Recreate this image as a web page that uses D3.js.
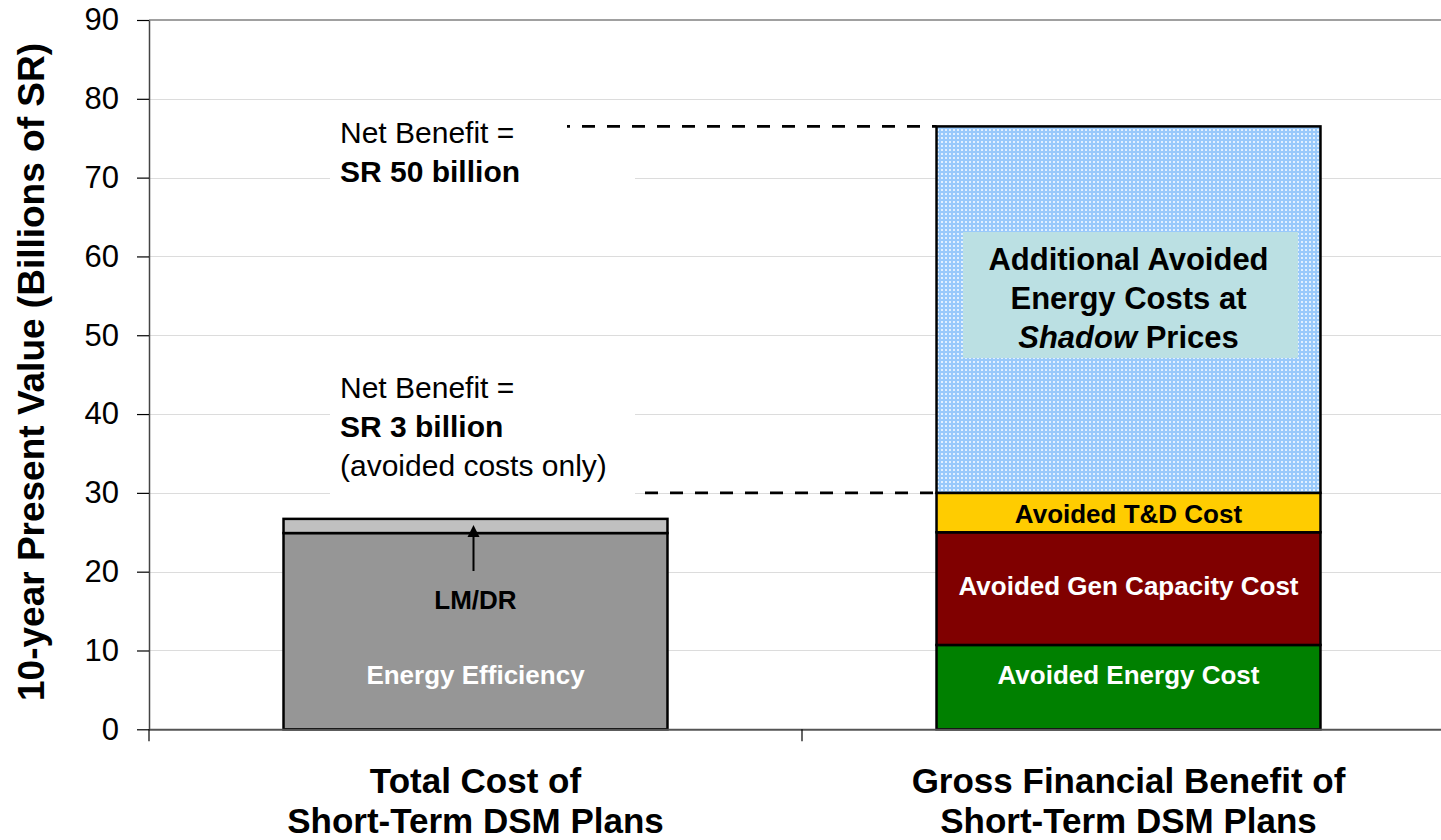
<!DOCTYPE html>
<html>
<head>
<meta charset="utf-8">
<script src="https://cdn.jsdelivr.net/npm/d3@7"></script>
<style>
    body { margin: 0; background: #fff; }
    svg { display: block; font-family: 'Liberation Sans', Arial, sans-serif; }
</style>
</head>
<body>
<svg class="chart"></svg>
<script>

// chart values (billions of SR, 10-year present value)
const categories = ['cost', 'benefit'];
const categoryLabels = [
    ['Total Cost of', 'Short-Term DSM Plans'],
    ['Gross Financial Benefit of', 'Short-Term DSM Plans']
];
const costNames = ['Energy Efficiency', 'LM/DR'];
const costValues = [24.9, 1.8];
const benefitNames = ['Avoided Energy Cost', 'Avoided Gen Capacity Cost', 'Avoided T&D Cost', 'Shadow'];
const benefitValues = [10.7, 14.3, 5.0, 46.5];
const yTicks = [0, 10, 20, 30, 40, 50, 60, 70, 80, 90];

const WIDTH = 1441;
const HEIGHT = 840;
const FONT = "'Liberation Sans', Arial, sans-serif";

const costColors = ['#969696', '#c0c0c0'];
const benefitColors = ['#008000', '#800000', '#ffcc00', 'url(#dots)'];

var svg = d3.select('svg.chart')
    .attr('width', WIDTH)
    .attr('height', HEIGHT)
    .attr('font-family', FONT);

// dotted light blue fill for the shadow price block
var pat = svg.append('defs').append('pattern')
    .attr('id', 'dots')
    .attr('patternUnits', 'userSpaceOnUse')
    .attr('width', 4)
    .attr('height', 4);
pat.append('rect').attr('width', 4).attr('height', 4).attr('fill', '#99c9fb');
pat.append('rect').attr('x', 1).attr('y', 1).attr('width', 2).attr('height', 2).attr('fill', '#e2f0ff');

var y = d3.scaleLinear().domain([0, 90]).range([729.3, 20]);

var x = d3.scaleBand()
    .domain(categories)
    .range([149, 1455])
    .paddingInner(0.412)
    .paddingOuter(0.206);

var step = x.step();

// gridlines
svg.append('g')
    .selectAll('line')
    .data(yTicks.filter(t => t > 0 && t < 90))
    .enter().append('line')
        .attr('x1', 149)
        .attr('x2', WIDTH)
        .attr('y1', t => Math.round(y(t)) + 0.5)
        .attr('y2', t => Math.round(y(t)) + 0.5)
        .attr('stroke', '#dcdcdc')
        .attr('stroke-width', 1);

svg.append('line')
    .attr('x1', 149).attr('x2', WIDTH)
    .attr('y1', y(90)).attr('y2', y(90))
    .attr('stroke', '#a0a0a0')
    .attr('stroke-width', 2);

// white boxes behind the net benefit notes
svg.append('rect').attr('x', 330).attr('y', 108).attr('width', 305).attr('height', 88).attr('fill', '#fff');
svg.append('rect').attr('x', 330).attr('y', 362).attr('width', 305).attr('height', 138).attr('fill', '#fff');

// y axis
var yAxis = d3.axisLeft(y)
    .tickValues(yTicks)
    .tickSize(12)
    .tickSizeOuter(0)
    .tickPadding(18);

var gy = svg.append('g')
    .attr('transform', 'translate(149,0)')
    .call(yAxis);

gy.attr('font-family', FONT);
gy.select('.domain').attr('stroke', '#444').attr('stroke-width', 1.5);
gy.selectAll('.tick line').attr('stroke', '#000').attr('stroke-width', 1.2);
gy.selectAll('.tick text')
    .attr('font-family', FONT)
    .attr('font-size', 31)
    .attr('fill', '#000');

svg.append('text')
    .attr('transform', 'translate(44,' + 372 + ') rotate(-90)')
    .attr('text-anchor', 'middle')
    .attr('font-size', 37)
    .attr('font-weight', 'bold')
    .text('10-year Present Value (Billions of SR)');

// build stacked segments
function stackSegments(cat, names, values, colors) {
    var tops = d3.cumsum(values);
    return values.map((v, i) => ({
        cat: cat,
        name: names[i],
        y0: tops[i] - v,
        y1: tops[i],
        fill: colors[i]
    }));
}

var segments = stackSegments('cost', costNames, costValues, costColors)
    .concat(stackSegments('benefit', benefitNames, benefitValues, benefitColors));

// dashed net benefit guides
var costTotal = d3.sum(costValues);
var avoidedTotal = d3.sum(benefitValues.slice(0, 3));
var grossTotal = d3.sum(benefitValues);

svg.append('line')
    .attr('x1', 567).attr('x2', x('benefit'))
    .attr('y1', y(grossTotal)).attr('y2', y(grossTotal))
    .attr('stroke', '#000').attr('stroke-width', 2.8)
    .attr('stroke-dasharray', '13,12')
    .attr('stroke-dashoffset', 10);

svg.append('line')
    .attr('x1', 645).attr('x2', x('benefit'))
    .attr('y1', y(avoidedTotal)).attr('y2', y(avoidedTotal))
    .attr('stroke', '#000').attr('stroke-width', 2.8)
    .attr('stroke-dasharray', '13,12');

// bars
svg.append('g')
    .selectAll('rect')
    .data(segments)
    .enter().append('rect')
        .attr('x', d => x(d.cat))
        .attr('y', d => y(d.y1))
        .attr('width', x.bandwidth())
        .attr('height', d => y(d.y0) - y(d.y1))
        .attr('fill', d => d.fill)
        .attr('stroke', '#000')
        .attr('stroke-width', 2.5);

// x axis
svg.append('line')
    .attr('x1', 149).attr('x2', WIDTH)
    .attr('y1', y(0) + 0.5).attr('y2', y(0) + 0.5)
    .attr('stroke', '#555')
    .attr('stroke-width', 2);

svg.append('g')
    .selectAll('line')
    .data(d3.range(categories.length + 1))
    .enter().append('line')
        .attr('x1', i => 149 + i * step)
        .attr('x2', i => 149 + i * step)
        .attr('y1', y(0))
        .attr('y2', y(0) + 12)
        .attr('stroke', '#000')
        .attr('stroke-width', 1.2);

var catText = svg.append('g')
    .selectAll('text')
    .data(categories)
    .enter().append('text')
        .attr('x', d => x(d) + x.bandwidth() / 2)
        .attr('y', 793)
        .attr('text-anchor', 'middle')
        .attr('font-size', 35)
        .attr('font-weight', 'bold');

catText.each(function(d, i) {
    var t = d3.select(this);
    categoryLabels[i].forEach((line, j) => {
        t.append('tspan')
            .attr('x', x(d) + x.bandwidth() / 2)
            .attr('dy', j === 0 ? 0 : 40)
            .text(line);
    });
});

// segment labels
function segLabel(cat, text, yVal, color, size) {
    svg.append('text')
        .attr('x', x(cat) + x.bandwidth() / 2)
        .attr('y', y(yVal))
        .attr('text-anchor', 'middle')
        .attr('font-size', size || 26)
        .attr('font-weight', 'bold')
        .attr('fill', color)
        .text(text);
}

segLabel('cost', 'Energy Efficiency', 5.8, '#fff');
segLabel('cost', 'LM/DR', 15.3, '#000');
segLabel('benefit', 'Avoided Energy Cost', 5.8, '#fff');
segLabel('benefit', 'Avoided Gen Capacity Cost', 17.1, '#fff');
segLabel('benefit', 'Avoided T&D Cost', 26.2, '#000');

// arrow from LM/DR label to its sliver
var ax = x('cost') + x.bandwidth() / 2 - 2;
svg.append('line')
    .attr('x1', ax).attr('x2', ax)
    .attr('y1', 571).attr('y2', 535)
    .attr('stroke', '#000').attr('stroke-width', 2);
svg.append('path')
    .attr('d', 'M' + (ax - 6) + ',537 L' + ax + ',525 L' + (ax + 6) + ',537 Z')
    .attr('fill', '#000');

// shadow price label box
var sx = x('benefit') + x.bandwidth() / 2;
svg.append('rect')
    .attr('x', 963).attr('y', 232)
    .attr('width', 335).attr('height', 126)
    .attr('fill', '#bbe0e3');

var shadowText = svg.append('text')
    .attr('text-anchor', 'middle')
    .attr('font-size', 31)
    .attr('font-weight', 'bold');
shadowText.append('tspan').attr('x', sx).attr('y', 270).text('Additional Avoided');
shadowText.append('tspan').attr('x', sx).attr('y', 309).text('Energy Costs at');
var l3 = shadowText.append('tspan').attr('x', sx).attr('y', 348);
l3.append('tspan').attr('font-style', 'italic').text('Shadow');
l3.append('tspan').text(' Prices');

// net benefit notes
function note(lines, top) {
    var t = svg.append('text').attr('font-size', 30);
    lines.forEach((ln, i) => {
        t.append('tspan')
            .attr('x', 340)
            .attr('y', top + i * 39)
            .attr('font-weight', ln.bold ? 'bold' : 'normal')
            .text(ln.text);
    });
}

note([{ text: 'Net Benefit =' }, { text: 'SR ' + Math.round(grossTotal - costTotal) + ' billion', bold: true }], 143);
note([{ text: 'Net Benefit =' }, { text: 'SR ' + Math.round(avoidedTotal - costTotal) + ' billion', bold: true },
      { text: '(avoided costs only)' }], 398);

</script>
</body>
</html>
